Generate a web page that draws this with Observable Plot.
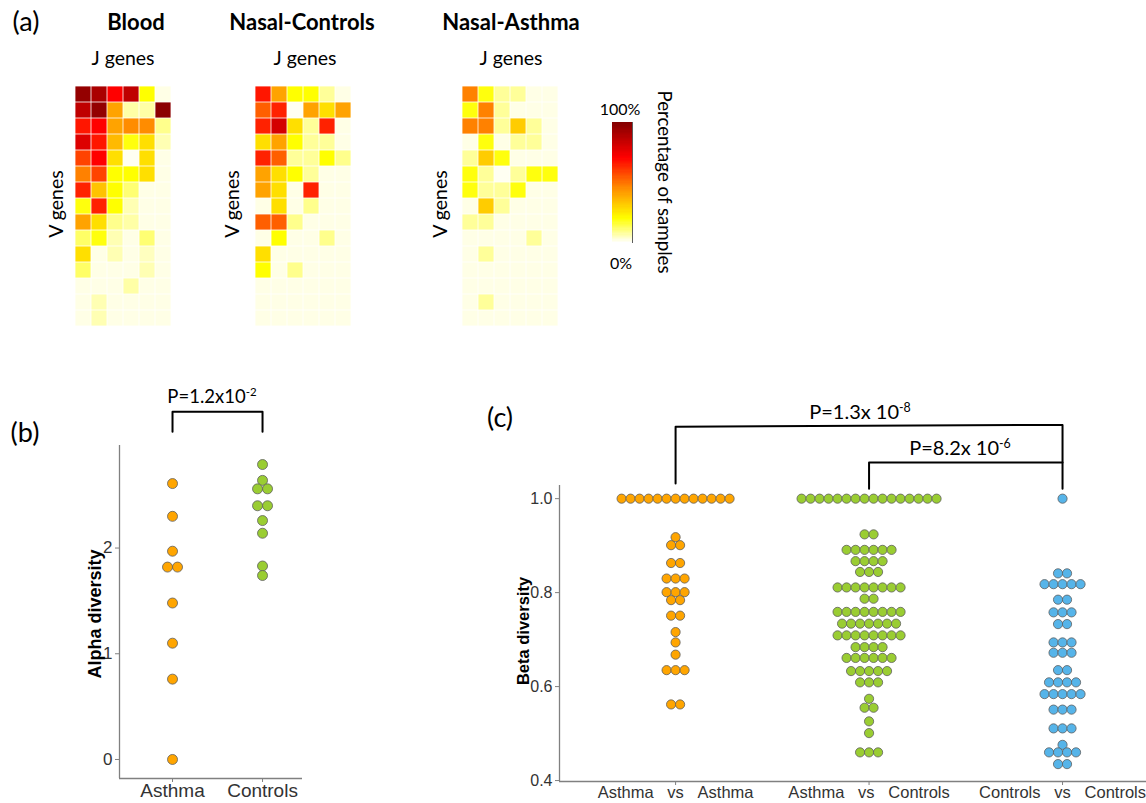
<!DOCTYPE html>
<html><head><meta charset="utf-8">
<script src="https://cdn.jsdelivr.net/npm/d3@7"></script>
<script src="https://cdn.jsdelivr.net/npm/@observablehq/plot@0.6"></script>
<style>
html,body{margin:0;padding:0;background:#fff;}
#fig{position:relative;width:1146px;height:803px;overflow:hidden;background:#fff;}
.t{position:absolute;font-family:Lato,"Open Sans",sans-serif;color:#000;white-space:nowrap;line-height:1;}
.a{font-family:"Liberation Sans",Arial,sans-serif;font-weight:bold;color:#000;}
sup{font-size:0.62em;vertical-align:0.6em;line-height:0;}
svg{position:absolute;overflow:visible;}
</style></head>
<body><div id="fig"></div>
<script>
// ---------- data ----------
const jGenes = ["J1","J2","J3","J4","J5","J6"];
const vGenes = ["V1","V2","V3","V4","V5","V6","V7","V8","V9","V10","V11","V12","V13","V14","V15"];
const bloodPct = [
  [0.95,0.90,0.70,0.85,0.20,0.02],
  [0.85,0.95,0.40,0.07,0.07,0.97],
  [0.66,0.70,0.40,0.45,0.45,0.09],
  [0.78,0.66,0.35,0.19,0.27,0.06],
  [0.58,0.70,0.27,0.01,0.27,0.02],
  [0.47,0.58,0.20,0.20,0.27,0.02],
  [0.64,0.33,0.20,0.11,0.02,0.02],
  [0.19,0.64,0.20,0.06,0.02,0.02],
  [0.40,0.27,0.09,0.07,0.02,0.02],
  [0.12,0.19,0.06,0.02,0.11,0.02],
  [0.27,0.02,0.06,0.02,0.05,0.02],
  [0.12,0.02,0.02,0.02,0.06,0.02],
  [0.02,0.02,0.02,0.07,0.02,0.02],
  [0.02,0.06,0.02,0.02,0.02,0.02],
  [0.02,0.06,0.02,0.02,0.02,0.02]
];
const ncPct = [
  [0.66,0.40,0.20,0.20,0.08,0.02],
  [0.53,0.64,0.01,0.40,0.27,0.40],
  [0.64,0.80,0.27,0.08,0.64,0.02],
  [0.27,0.40,0.20,0.08,0.08,0.02],
  [0.64,0.53,0.08,0.08,0.20,0.09],
  [0.40,0.27,0.20,0.08,0.02,0.02],
  [0.40,0.27,0.02,0.64,0.02,0.02],
  [0.02,0.27,0.02,0.09,0.02,0.02],
  [0.53,0.53,0.09,0.02,0.02,0.02],
  [0.02,0.20,0.02,0.02,0.09,0.02],
  [0.27,0.02,0.02,0.02,0.02,0.02],
  [0.20,0.02,0.09,0.02,0.02,0.02],
  [0.02,0.02,0.02,0.02,0.02,0.02],
  [0.02,0.02,0.02,0.02,0.02,0.02],
  [0.02,0.02,0.02,0.02,0.02,0.02]
];
const naPct = [
  [0.47,0.19,0.08,0.08,0.02,0.02],
  [0.19,0.47,0.08,0.02,0.02,0.02],
  [0.47,0.47,0.08,0.31,0.08,0.02],
  [0.02,0.19,0.02,0.08,0.08,0.02],
  [0.08,0.31,0.19,0.02,0.02,0.02],
  [0.19,0.08,0.01,0.08,0.19,0.19],
  [0.19,0.08,0.08,0.19,0.02,0.02],
  [0.02,0.31,0.08,0.02,0.02,0.02],
  [0.08,0.08,0.02,0.02,0.02,0.02],
  [0.02,0.02,0.02,0.02,0.08,0.02],
  [0.02,0.08,0.02,0.02,0.02,0.02],
  [0.02,0.02,0.02,0.02,0.02,0.02],
  [0.02,0.02,0.02,0.02,0.02,0.02],
  [0.02,0.08,0.02,0.02,0.02,0.02],
  [0.02,0.02,0.02,0.02,0.02,0.02]
];

const alphaCats = ["Asthma","Controls"];
const alphaTicks = [0,1,2];
const alphaAsthma = [2.61,2.30,1.97,1.82,1.82,1.48,1.10,0.76,0.00];
const alphaControls = [2.79,2.64,2.56,2.56,2.40,2.40,2.26,2.14,1.83,1.74];

const betaCats = ["Asthma vs Asthma","Asthma vs Controls","Controls vs Controls"];
const betaTicks = [0.4,0.6,0.8,1.0];
const betaAA = [1,1,1,1,1,1,1,1,1,1,1,1,1,
  0.918,0.901,0.901,0.863,0.863,0.830,0.830,0.830,0.801,0.801,0.801,0.784,0.784,
  0.751,0.751,0.716,0.694,0.668,0.635,0.635,0.635,0.562,0.562];
const betaAC = [1,1,1,1,1,1,1,1,1,1,1,1,1,1,1,1,
  0.924,0.924,0.891,0.891,0.891,0.891,0.891,0.891,0.867,0.867,0.867,0.867,0.844,0.844,0.844,
  0.811,0.811,0.811,0.811,0.811,0.811,0.811,0.811,0.787,0.787,
  0.759,0.759,0.759,0.759,0.759,0.759,0.759,0.759,
  0.734,0.734,0.734,0.734,0.734,0.734,0.734,
  0.709,0.709,0.709,0.709,0.709,0.709,0.709,0.709,
  0.684,0.684,0.684,0.684,0.661,0.661,0.661,0.661,0.661,0.661,
  0.633,0.633,0.633,0.633,0.633,0.609,0.609,0.609,0.574,0.555,0.555,0.526,0.501,0.460,0.460,0.460];
const betaCC = [1,0.841,0.841,0.818,0.818,0.818,0.818,0.818,0.785,0.785,0.758,0.758,0.758,
  0.733,0.733,0.694,0.694,0.694,0.672,0.672,0.672,0.635,0.635,0.609,0.609,0.609,0.609,
  0.584,0.584,0.584,0.584,0.584,0.551,0.551,0.551,0.511,0.511,0.511,0.476,0.460,0.460,0.460,0.460,0.435,0.435];

// ---------- helpers ----------
const fig = document.getElementById("fig");
function place(svg, left, top){ svg.style.left = left+"px"; svg.style.top = top+"px"; fig.appendChild(svg); }
function txt(html, x, y, size, opts={}){
  const d = document.createElement("div");
  d.className = "t" + (opts.cls ? " "+opts.cls : "");
  d.innerHTML = html;
  d.style.left = x+"px"; d.style.top = y+"px"; d.style.fontSize = size+"px";
  if (opts.bold) d.style.fontWeight = "bold";
  d.style.transform = "translate(-50%,-50%)" + (opts.rot ? ` rotate(${opts.rot}deg)` : "");
  fig.appendChild(d);
}
function swarm(values, cat, step){
  const out = [];
  for (const [v, arr] of d3.group(values, v => v)) {
    const n = arr.length;
    arr.forEach((_, i) => out.push({x: cat + (i - (n-1)/2)*step, y: v}));
  }
  return out;
}

// ---------- (a) heatmaps ----------
const heatColor = {type:"linear", domain:[0,0.2,0.45,0.7,1],
  range:["#ffffff","#ffff00","#ff8c00","#ff0000","#7f0000"], interpolate:"rgb"};
function heatmap(matrix, left, top){
  const cells = [];
  matrix.forEach((row, i) => row.forEach((p, j) => cells.push({v: vGenes[i], j: jGenes[j], p})));
  const svg = Plot.plot({
    width: 97, height: 245, margin: 0,
    x: {type:"band", domain: jGenes, padding: 0, axis: null},
    y: {type:"band", domain: vGenes, padding: 0, axis: null},
    color: heatColor,
    marks: [Plot.cell(cells, {x:"j", y:"v", fill:"p", inset: 0.4})]
  });
  place(svg, left, top);
}
heatmap(bloodPct, 74, 83);
heatmap(ncPct, 254, 83);
heatmap(naPct, 461, 83);

// colour bar (legend ramp)
const ramp = d3.range(0, 1, 0.01);
place(Plot.plot({
  width: 32, height: 133, margin: 6,
  x: {domain:[0,1], axis:null}, y: {domain:[0,1], axis:null},
  color: heatColor,
  marks: [
    Plot.rect(ramp, {x1:0, x2:1, y1: d => d, y2: d => Math.min(1, d + 0.02), fill: d => d, shapeRendering:"crispEdges"}),
    Plot.ruleX([1], {stroke:"#333", strokeWidth: 0.8})
  ]
}), 606, 116);

txt("(a)", 26, 20, 27);
txt("Blood", 136, 22, 22, {bold:true});
txt("Nasal-Controls", 302, 22, 22, {bold:true});
txt("Nasal-Asthma", 511, 22, 22, {bold:true});
[123, 305, 511].forEach(x => txt("J genes", x, 58, 19.5));
[56, 232, 440].forEach(x => txt("V genes", x, 204, 19.5, {rot:-90}));
txt("100%", 620, 109, 16);
txt("0%", 621, 263, 16);
txt("Percentage of samples", 665, 182, 18.7, {rot:90});

// ---------- (b) alpha diversity ----------
const bx = [-0.589, 1.444], by = [-0.18, 2.97];
const bStep = 10/90;
place(Plot.plot({
  width: 310, height: 430,
  marginLeft: 119, marginRight: 8, marginTop: 65, marginBottom: 32,
  style: {fontFamily: "Liberation Sans, Arial, sans-serif", background: "transparent"},
  x: {domain: bx, axis: null}, y: {domain: by, axis: null},
  marks: [
    Plot.ruleX([bx[0]], {stroke:"#808080", strokeWidth: 1.3}),
    Plot.ruleY([by[0]], {stroke:"#808080", strokeWidth: 1.3}),
    Plot.axisY(alphaTicks, {tickFormat: d3.format("d"), tickSize: 4, tickPadding: 3, fontSize: 17, stroke:"#808080", fill:"#333", label: null}),
    Plot.axisX([0,1], {tickFormat: i => alphaCats[i], tickSize: 4, tickPadding: 1, fontSize: 19, stroke:"#808080", fill:"#333", label: null}),
    Plot.line([{x:0,y:3.10},{x:0,y:3.29},{x:1,y:3.29},{x:1,y:3.10}], {x:"x", y:"y", stroke:"#000", strokeWidth: 2}),
    Plot.dot(swarm(alphaAsthma, 0, bStep), {x:"x", y:"y", r: 5, fill:"#FFA500", stroke:"#5e5e5e", strokeWidth: 0.8}),
    Plot.dot(swarm(alphaControls, 1, bStep), {x:"x", y:"y", r: 5, fill:"#9ACD32", stroke:"#5e5e5e", strokeWidth: 0.8})
  ]
}), 0, 380);
txt("(b)", 25, 431, 27);
txt("P=1.2x10<sup>-2</sup>", 212, 396, 18.5);
txt("Alpha diversity", 95, 614, 18, {cls:"a", rot:-90});

// ---------- (c) beta diversity ----------
const cx = [-0.6, 2.434], cy = [0.398, 1.028];
const cStep = 9/193.5;
const nb = "\u00a0\u00a0\u00a0";
place(Plot.plot({
  width: 666, height: 430,
  marginLeft: 79, marginRight: 0, marginTop: 105, marginBottom: 29,
  style: {fontFamily: "Liberation Sans, Arial, sans-serif", background: "transparent"},
  x: {domain: cx, axis: null}, y: {domain: cy, axis: null},
  marks: [
    Plot.ruleX([cx[0]], {stroke:"#808080", strokeWidth: 1.3}),
    Plot.ruleY([cy[0]], {stroke:"#808080", strokeWidth: 1.3}),
    Plot.axisY(betaTicks, {tickFormat: d3.format(".1f"), tickSize: 4, tickPadding: 3, fontSize: 16, stroke:"#808080", fill:"#333", label: null}),
    Plot.axisX([0,1,2], {tickFormat: i => betaCats[i].split(" ").join(nb), tickSize: 4, tickPadding: 1, fontSize: 16.5, stroke:"#808080", fill:"#333", label: null}),
    Plot.line([{x:0,y:1.032},{x:0,y:1.153},{x:2,y:1.157},{x:2,y:1.021}], {x:"x", y:"y", stroke:"#000", strokeWidth: 2}),
    Plot.line([{x:1,y:1.021},{x:1,y:1.077},{x:2,y:1.077}], {x:"x", y:"y", stroke:"#000", strokeWidth: 2}),
    Plot.dot(swarm(betaAA, 0, cStep), {x:"x", y:"y", r: 4.6, fill:"#FFA500", stroke:"#5e5e5e", strokeWidth: 0.8}),
    Plot.dot(swarm(betaAC, 1, cStep), {x:"x", y:"y", r: 4.6, fill:"#9ACD32", stroke:"#5e5e5e", strokeWidth: 0.8}),
    Plot.dot(swarm(betaCC, 2, cStep), {x:"x", y:"y", r: 4.6, fill:"#56B4E9", stroke:"#5e5e5e", strokeWidth: 0.8})
  ]
}), 480, 380);
txt("(c)", 500, 416, 27);
txt("P=1.3x 10<sup>-8</sup>", 860, 411, 20);
txt("P=8.2x 10<sup>-6</sup>", 960, 447, 20);
txt("Beta diversity", 523, 631, 16.5, {cls:"a", rot:-90});
</script></body></html>
